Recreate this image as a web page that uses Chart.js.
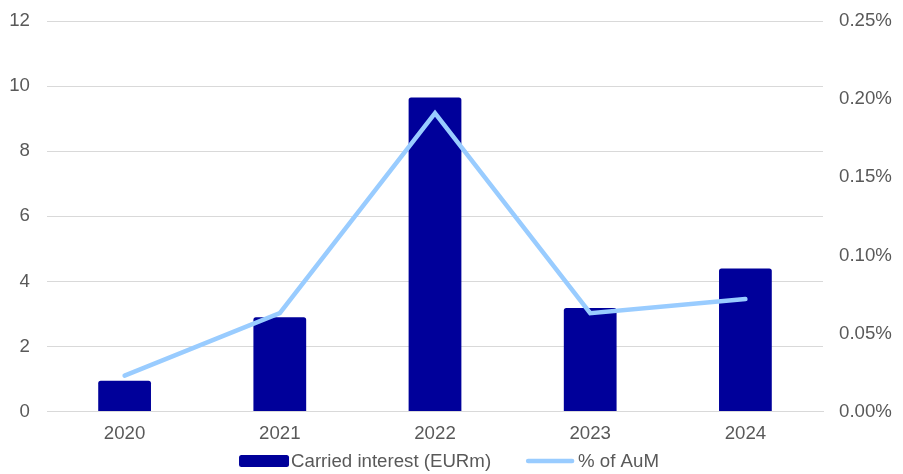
<!DOCTYPE html>
<html><head><meta charset="utf-8">
<script src="https://cdn.jsdelivr.net/npm/chart.js@4"></script>
<style>html,body{margin:0;padding:0;background:#fff}#wrap{width:903px;height:474px;position:relative}</style>
</head><body><div id="wrap"><canvas id="c"></canvas></div>
<script>
const categories = ["2020", "2021", "2022", "2023", "2024"];
const carriedInterest = [0.95, 2.9, 9.65, 3.18, 4.4];
const pctOfAuM = [0.023, 0.063, 0.191, 0.063, 0.072];
const leftTicks = [0, 2, 4, 6, 8, 10, 12];
const rightTicks = [0, 0.05, 0.10, 0.15, 0.20, 0.25];

const FONT_FAMILY = "'Liberation Sans', Arial, sans-serif";
const tickFont = {family: FONT_FAMILY, size: 18.67};
const tickColor = '#595959';
const BAR_COLOR = '#00009A';
const LINE_COLOR = '#99CCFF';

// Legend drawn in the reserved bottom band (order: bar first, then line)
const bottomLegend = {
  id: 'bottomLegend',
  afterDraw(chart) {
    const ctx = chart.ctx;
    const dsBar = chart.data.datasets.find(d => d.type === 'bar');
    const dsLine = chart.data.datasets.find(d => d.type === 'line');
    ctx.save();
    ctx.font = tickFont.size + 'px ' + FONT_FAMILY;
    ctx.textBaseline = 'middle';
    ctx.fillStyle = tickColor;
    const w1 = ctx.measureText(dsBar.label).width;
    const w2 = ctx.measureText(dsLine.label).width;
    const total = 50 + 2 + w1 + 35 + 48 + 4 + w2;
    const cx = 449;
    const y = 461;
    let x = cx - total / 2;
    ctx.fillStyle = dsBar.backgroundColor;
    ctx.beginPath();
    ctx.roundRect(x, y - 6, 50, 12, 2.5);
    ctx.fill();
    x += 52;
    ctx.fillStyle = tickColor;
    ctx.fillText(dsBar.label, x, y + 1);
    x += w1 + 35;
    ctx.strokeStyle = dsLine.borderColor;
    ctx.lineWidth = 4.5;
    ctx.lineCap = 'round';
    ctx.beginPath();
    ctx.moveTo(x + 2, y); ctx.lineTo(x + 46, y);
    ctx.stroke();
    x += 52;
    ctx.fillText(dsLine.label, x, y + 1);
    ctx.restore();
  }
};

function fixVertical(width) {
  return function(s) { s.width = width; s.paddingTop = 0; s.paddingBottom = 0; };
}

new Chart(document.getElementById('c'), {
  data: {
    labels: categories,
    datasets: [
      {type: 'line', label: '% of AuM', data: pctOfAuM, yAxisID: 'y1',
       borderColor: LINE_COLOR, backgroundColor: LINE_COLOR, borderWidth: 4.5,
       pointRadius: 0, tension: 0, order: 0, borderCapStyle: 'round', borderJoinStyle: 'miter'},
      {type: 'bar', label: 'Carried interest (EURm)', data: carriedInterest, yAxisID: 'y',
       backgroundColor: BAR_COLOR, borderColor: BAR_COLOR, borderWidth: 0,
       barPercentage: 0.34, categoryPercentage: 1.0, borderRadius: {topLeft: 2.5, topRight: 2.5}, borderSkipped: 'bottom',
       order: 1}
    ]
  },
  options: {
    responsive: true, maintainAspectRatio: false, animation: false,
    layout: {padding: {top: 21, bottom: 26, left: 0, right: 0}},
    plugins: {
      tooltip: {enabled: false},
      legend: {display: false}
    },
    scales: {
      x: {
        grid: {display: false}, border: {display: true, color: '#D9D9D9', width: 1},
        ticks: {font: tickFont, color: tickColor, padding: 3}
      },
      y: {
        position: 'left', min: 0, max: 12,
        afterBuildTicks(s) { s.ticks = leftTicks.map(v => ({value: v})); },
        afterFit: fixVertical(47),
        grid: {color: '#D9D9D9', drawTicks: false}, border: {display: false},
        ticks: {font: tickFont, color: tickColor, padding: 17}
      },
      y1: {
        position: 'right', min: 0, max: 0.25,
        afterBuildTicks(s) { s.ticks = rightTicks.map(v => ({value: v})); },
        afterFit: fixVertical(80),
        grid: {display: false}, border: {display: false},
        ticks: {font: tickFont, color: tickColor, padding: 8,
          callback: v => v.toFixed(2) + '%'}
      }
    }
  },
  plugins: [bottomLegend]
});
</script></body></html>
